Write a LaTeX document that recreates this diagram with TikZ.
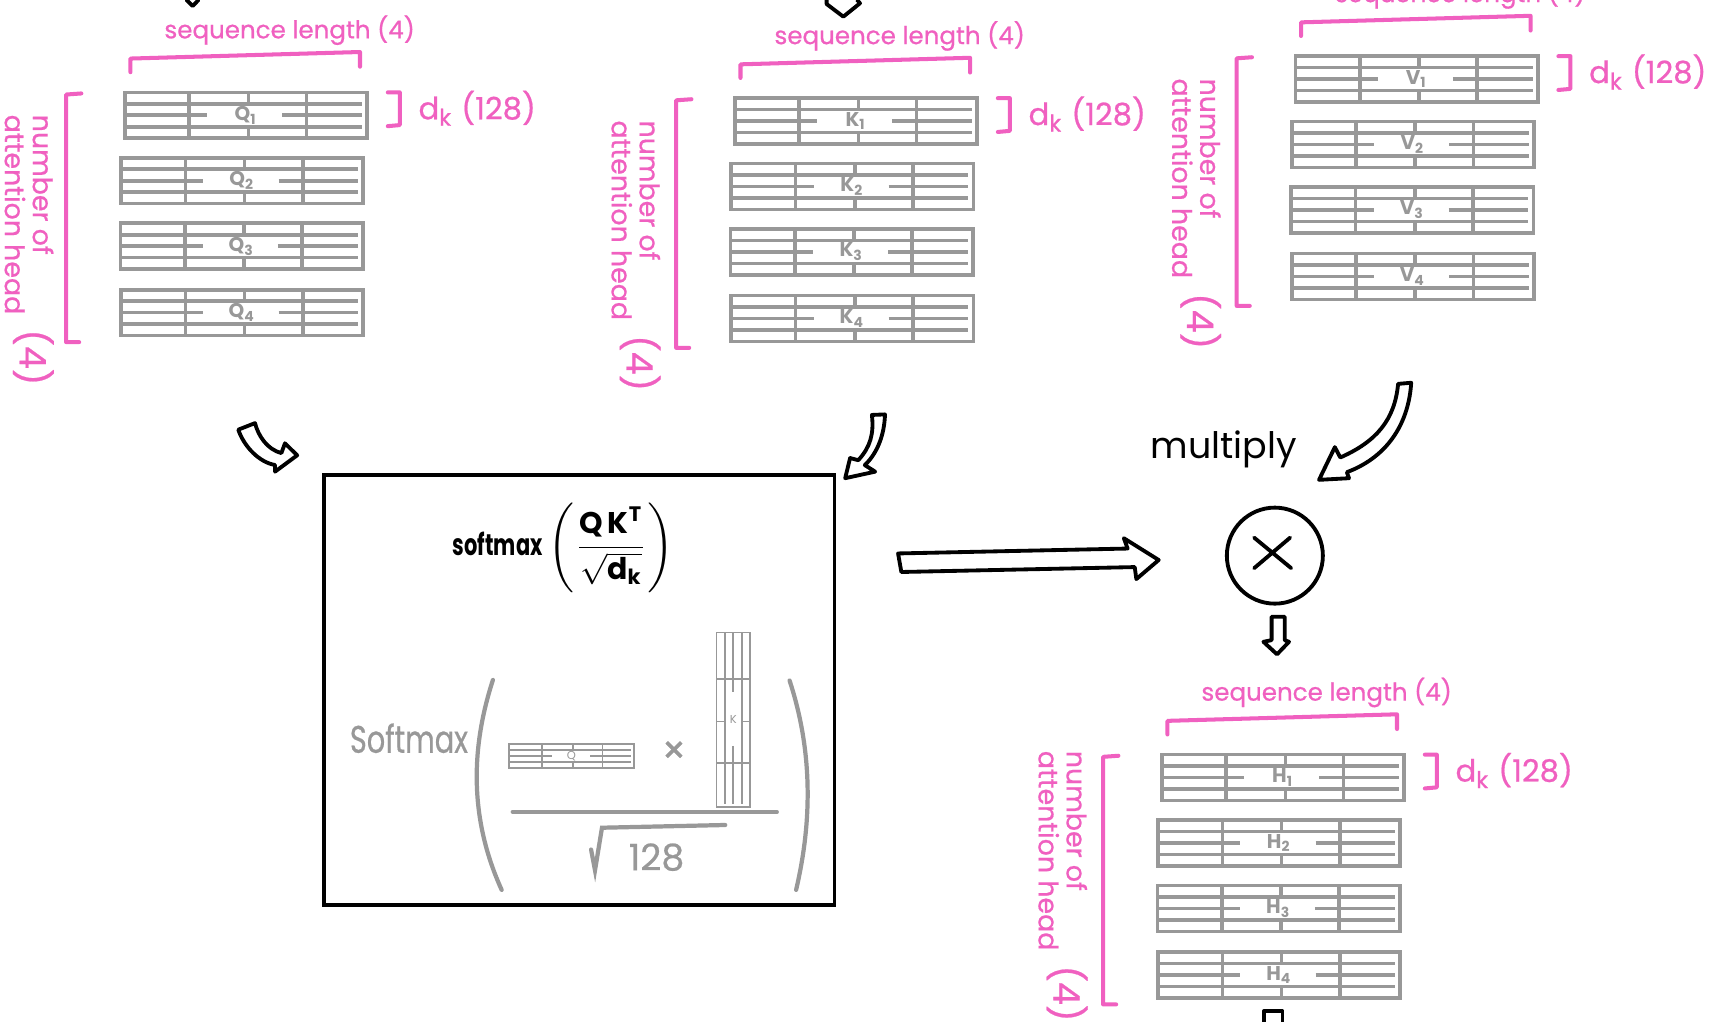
\documentclass[tikz,border=0pt]{standalone}
\usepackage{fontspec}
\usepackage{amsmath}
\usepackage{graphicx}
\setmainfont{Poppins}
\newfontfamily\hand{Poppins}[FakeBold=0.6]
\definecolor{pk}{RGB}{240,96,192}
\definecolor{mg}{RGB}{152,152,152}
\tikzset{
  mline/.style={draw=mg, line width=0.95pt},
  mthin/.style={draw=mg, line width=0.5pt},
  matnode/.style={draw=mg, line width=0.95pt, inner sep=0pt, text=mg, font=\fontsize{5.2}{5}\selectfont\bfseries},
  matsmall/.style={matnode, line width=0.5pt, font=\fontsize{3}{3}\selectfont},
  pkline/.style={draw=pk, line width=1.05pt, line cap=round, line join=round},
  pktext/.style={text=pk, inner sep=0pt, font=\hand\fontsize{6.4}{7}\selectfont},
  pkdk/.style={text=pk, inner sep=0pt, font=\hand\fontsize{8}{8}\selectfont},
  pkrot/.style={text=pk, inner sep=0pt, rotate=-90, align=left, font=\hand\fontsize{7}{7.3}\selectfont},
  pkfour/.style={text=pk, inner sep=0pt, rotate=-90, font=\hand\fontsize{9.5}{9.5}\selectfont},
  blk/.style={draw=black, line width=1pt, line join=round, line cap=round},
  gline/.style={draw=mg, line width=1.1pt, line cap=round},
}
\newcommand\mtxlines[1]{%
  \draw[#1] (-1,-0.5) -- (0.96,-0.5) (-1,0.5) -- (0.96,0.5)
    (-1,0) -- (-0.32,0) (0.3,0) -- (0.96,0)
    (-0.47,-1) -- (-0.47,1) (0.5,-1) -- (0.5,1)
    (0.02,-1) -- (0.02,-0.5) (0.02,0.5) -- (0.02,1);}
\newcommand\mtx[6]{%
  \pgfmathsetmacro\mtxw{#4*0.01}\pgfmathsetmacro\mtxh{#5*0.01}%
  \node[matnode, minimum width=\mtxw cm, minimum height=\mtxh cm] (#1) at (#2,#3) {#6};
  \begin{scope}[shift={(#2,#3)}, xscale=#4/2, yscale=#5/2]\mtxlines{mline}\end{scope}}
\newcommand\grp[6]{%
  \begin{scope}[shift={(#3,#4)}]
    \mtx{#11}{111}{21}{222}{42}{#2\textsubscript{1}}
    \mtx{#12}{107.5}{81}{222}{42}{#2\textsubscript{2}}
    \mtx{#13}{107}{141}{222}{42}{#2\textsubscript{3}}
    \mtx{#14}{107.5}{202}{222}{42}{#2\textsubscript{4}}
    \node[pktext] (#1seq) at (151,-57) {sequence length (4)};
    \draw[pkline] (5,-18.5) -- (5,-31) -- (215.5,-37) -- (215.5,-23.5);
    \draw[pkline] (241,0) -- (252,0) -- (252,30) -- (241,31);
    \node[pkdk] (#1dk) at (323,14.5) {d\textsubscript{k} (128)};
    \draw[pkline] (-40,1) -- (-54,2) -- (-54,229) -- (-42,229);
    \node[pkrot] (#1num) at ({-91+#6},{112+#5}) {number of\\attention head};
    \node[pkfour] (#1four) at ({-87+#6},{243+#5}) {(4)};
  \end{scope}}
\begin{document}
\begin{tikzpicture}[x=0.01cm, y=-0.01cm]
\useasboundingbox (0,0) rectangle (1568,937);
\fill[white] (0,0) rectangle (1568,937);

\grp{Q}{Q}{114.6}{84.7}{0}{3}
\grp{K}{K}{674}{90}{0}{0}
\grp{V}{V}{1188}{51.5}{0}{0}
\grp{H}{H}{1065.5}{692}{-24}{0}

% arrows cut by the edges
\draw[blk] (171,0) -- (176.7,5.5) -- (182,0);
\draw[blk] (758,0) -- (758,3.7) -- (773.3,15.3) -- (788.6,3) -- (786,0);
\draw[blk] (1159,938) -- (1159,927) -- (1176,927) -- (1176,938);

% attention box
\node[draw=black, line width=1pt, minimum width=4.68cm, minimum height=3.945cm, inner sep=0pt] (box) at (531,632.75) {};
\node[inner sep=0pt, font=\fontsize{7.8}{9}\selectfont] (formula) at (517,502)
  {\scalebox{0.7}[1]{\bfseries softmax}\,$\left(\dfrac{\text{\bfseries Q\,K}^{\text{\bfseries T}}}{\sqrt{\text{\bfseries d}_{\text{\bfseries k}}}}\right)$};
\node[text=mg, inner sep=0pt, font=\hand\fontsize{10}{10}\selectfont] (gsoft) at (375,677) {\scalebox{0.75}[1]{Softmax}};
\draw[gline] (452,623.5) .. controls (431,688) and (431,752) .. (460,816);
\draw[gline] (724,624) .. controls (745,688) and (745,752) .. (730,816);
\node[matsmall, minimum width=1.14cm, minimum height=0.22cm] (qs) at (524,693.5) {Q};
\begin{scope}[shift={(524,693.5)}, xscale=57, yscale=11]\mtxlines{mthin}\end{scope}
\node[text=mg, inner sep=0pt, font=\hand\fontsize{10}{10}\selectfont] (times) at (618,690) {×};
\node[matsmall, minimum width=0.31cm, minimum height=1.6cm] (ks) at (672.5,660) {K};
\begin{scope}[shift={(672.5,660)}, rotate=-90, xscale=80, yscale=15.5]\mtxlines{mthin}\end{scope}
\draw[gline, line width=1pt] (470,744.5) -- (712.5,744.5);
\draw[gline] (542,779) -- (545.6,798) -- (552,759) -- (665,756.5);
\node[text=mg, inner sep=0pt, font=\hand\fontsize{9.5}{9.5}\selectfont] (n128) at (602,786) {128};

% curved block arrows
\draw[blk] (218.5,394) -- (233.8,388) .. controls (237,400) and (245,412) .. (258,415.5)
  -- (261.3,406.5) -- (272.5,417.5) -- (252.2,432.5) -- (252.2,426.4)
  .. controls (238,424) and (224,410) .. (218.5,394) -- cycle;
\draw[blk] (799.5,380.5) -- (811.5,380) .. controls (811,398) and (805,415) .. (793,426.5)
  -- (802.5,432.5) -- (775,438.5) -- (779.5,420) -- (787,422)
  .. controls (798,410) and (801.5,398) .. (799.5,380.5) -- cycle;
\draw[blk] (1282,352) -- (1294,351) .. controls (1292,385) and (1275,418) .. (1235,433)
  -- (1237,438.5) -- (1209.5,440) -- (1224,410) -- (1229,419.5)
  .. controls (1262,405) and (1279,385) .. (1282,352) -- cycle;
% straight block arrows
\draw[blk] (823.5,507.5) -- (1034,503) -- (1030.5,493.5) -- (1062.5,513.5) -- (1042,531) -- (1040.5,520) -- (826.5,524.5) -- cycle;
\draw[blk] (1166,565.5) -- (1178,565.5) -- (1178,587) -- (1182,588.5) -- (1171,600) -- (1158.5,588.5) -- (1166,587) -- cycle;

% multiply
\node[inner sep=0pt, font=\fontsize{9.5}{9.5}\selectfont] (multiply) at (1122,412) {multiply};
\node[draw=black, circle, line width=1pt, minimum size=0.88cm, inner sep=0pt] (mul) at (1169,509.5) {};
\draw[blk] (1150,493) -- (1184,521) (1150,521) -- (1183,493);
\end{tikzpicture}
\end{document}
